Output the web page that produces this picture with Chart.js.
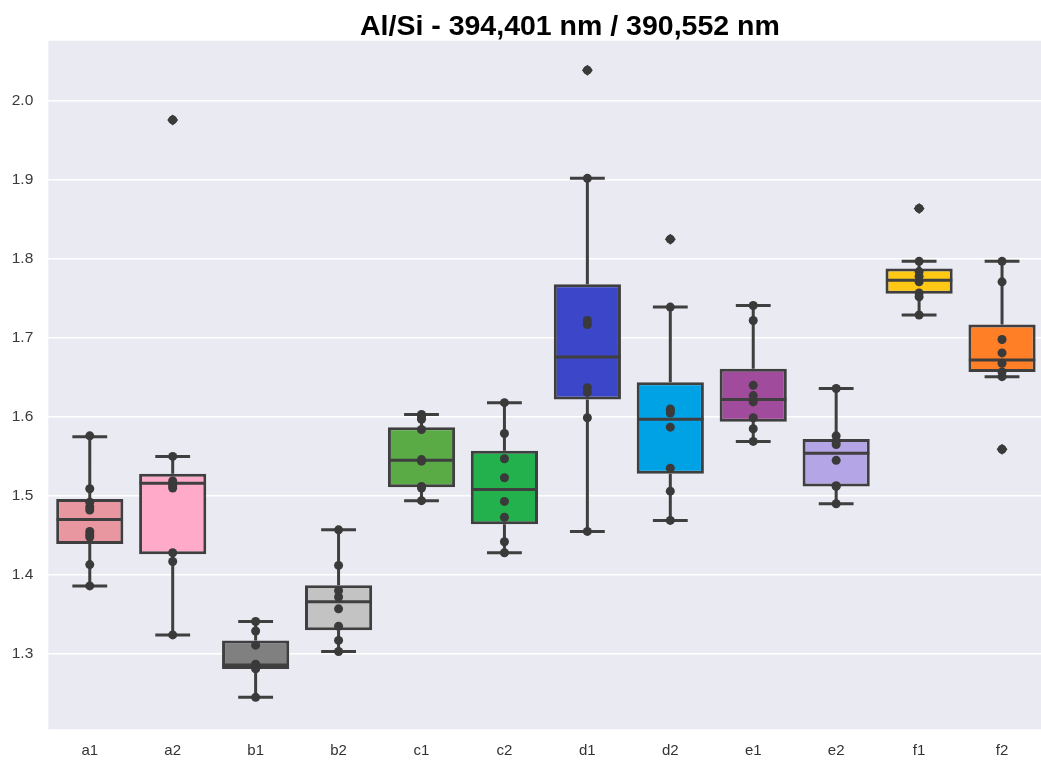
<!DOCTYPE html>
<html>
<head>
<meta charset="utf-8">
<script src="https://cdn.jsdelivr.net/npm/chart.js@4/dist/chart.umd.min.js"></script>
<style>
  html, body { margin: 0; padding: 0; background: #ffffff; overflow: hidden; }
  #wrap { width: 1049px; height: 760px; }
</style>
</head>
<body>
<div id="wrap"><canvas id="c" width="1049" height="760"></canvas></div>
<script>
// ---- data ----
const categories = ['a1','a2','b1','b2','c1','c2','d1','d2','e1','e2','f1','f2'];
const whiskerLow  = [1.386, 1.324, 1.245, 1.303, 1.494, 1.428, 1.455, 1.469, 1.569, 1.490, 1.729, 1.651];
const q1          = [1.439, 1.426, 1.281, 1.330, 1.511, 1.464, 1.622, 1.528, 1.594, 1.512, 1.756, 1.657];
const median      = [1.470, 1.516, 1.286, 1.366, 1.545, 1.508, 1.676, 1.597, 1.622, 1.554, 1.773, 1.672];
const q3          = [1.496, 1.528, 1.317, 1.387, 1.587, 1.557, 1.768, 1.644, 1.661, 1.572, 1.788, 1.717];
const whiskerHigh = [1.575, 1.550, 1.341, 1.457, 1.603, 1.618, 1.902, 1.739, 1.741, 1.636, 1.797, 1.797];

const flierCats   = ['a2','d1','d2','f1','f2'];
const flierValues = [1.976, 2.039, 1.825, 1.864, 1.559];

const samples = {
  a1: [1.576, 1.509, 1.492, 1.486, 1.482, 1.455, 1.451, 1.448, 1.413, 1.386],
  a2: [1.976, 1.550, 1.519, 1.516, 1.513, 1.510, 1.428, 1.417, 1.324],
  b1: [1.341, 1.329, 1.311, 1.287, 1.286, 1.285, 1.283, 1.281, 1.245],
  b2: [1.457, 1.412, 1.380, 1.372, 1.357, 1.335, 1.317, 1.303],
  c1: [1.603, 1.600, 1.597, 1.584, 1.546, 1.544, 1.512, 1.510, 1.494],
  c2: [1.618, 1.579, 1.547, 1.523, 1.493, 1.473, 1.442, 1.428],
  d1: [2.039, 1.902, 1.722, 1.717, 1.637, 1.631, 1.599, 1.455],
  d2: [1.825, 1.739, 1.610, 1.608, 1.605, 1.587, 1.535, 1.506, 1.469],
  e1: [1.741, 1.722, 1.640, 1.627, 1.619, 1.599, 1.585, 1.569],
  e2: [1.636, 1.576, 1.569, 1.565, 1.545, 1.513, 1.512, 1.490],
  f1: [1.864, 1.797, 1.784, 1.778, 1.771, 1.757, 1.752, 1.729],
  f2: [1.797, 1.771, 1.698, 1.681, 1.668, 1.657, 1.651, 1.559]
};

const boxColors = ['#e8969f','#ffaac8','#808080','#c3c3c3','#5aab46','#22b14c',
                   '#3c46c8','#00a2e6','#a04b9c','#b4a5e6','#ffc814','#ff7f27'];

const yTicks = [1.3, 1.4, 1.5, 1.6, 1.7, 1.8, 1.9, 2.0];
const titleText = 'Al/Si - 394,401 nm / 390,552 nm';

// ---- build datasets from the arrays ----
const CAP = 0.21, HALF = 0.4;
const segs = [];
const gap = (i) => segs.push({x: i, y: null});
categories.forEach((c, i) => {
  segs.push({x: i, y: whiskerLow[i]}, {x: i, y: q1[i]}); gap(i);
  segs.push({x: i, y: q3[i]}, {x: i, y: whiskerHigh[i]}); gap(i);
  segs.push({x: i - CAP, y: whiskerLow[i]}, {x: i + CAP, y: whiskerLow[i]}); gap(i);
  segs.push({x: i - CAP, y: whiskerHigh[i]}, {x: i + CAP, y: whiskerHigh[i]}); gap(i);
  segs.push({x: i - HALF, y: median[i]}, {x: i + HALF, y: median[i]}); gap(i);
});

const points = [];
categories.forEach((c, i) => samples[c].forEach(v => points.push({x: i, y: v})));
const fliers = flierCats.map((c, k) => ({x: categories.indexOf(c), y: flierValues[k]}));

const LINE = '#3f3f3f';

const plotBg = {
  id: 'plotBg',
  beforeDraw(chart) {
    const {ctx, chartArea: a} = chart;
    ctx.save();
    ctx.fillStyle = '#eaeaf2';
    ctx.fillRect(a.left, a.top, a.right - a.left, a.bottom - a.top);
    ctx.restore();
  },
  afterDraw(chart) {
    const {ctx, chartArea: a} = chart;
    ctx.save();
    ctx.font = 'bold 28.5px "Liberation Sans", Arial, sans-serif';
    ctx.fillStyle = '#000';
    ctx.textAlign = 'center';
    ctx.textBaseline = 'alphabetic';
    ctx.fillText(titleText, (a.left + a.right) / 2 + 24, 35);
    ctx.restore();
  }
};

new Chart(document.getElementById('c'), {
  type: 'bar',
  data: {
    labels: categories,
    datasets: [
      {
        type: 'bar',
        data: categories.map((c, i) => [q1[i], q3[i]]),
        backgroundColor: boxColors,
        borderColor: LINE,
        borderWidth: 3,
        borderSkipped: false,
        grouped: false,
        barPercentage: 0.81,
        categoryPercentage: 1.0,
        xAxisID: 'x',
        order: 3
      },
      {
        type: 'line',
        data: segs,
        xAxisID: 'x2',
        borderColor: LINE,
        borderWidth: 3,
        pointRadius: 0,
        spanGaps: false,
        tension: 0,
        borderCapStyle: 'butt',
        order: 2
      },
      {
        type: 'scatter',
        data: points,
        xAxisID: 'x2',
        pointRadius: 4.5,
        pointBackgroundColor: '#3a3a3a',
        pointBorderWidth: 0,
        order: 1
      },
      {
        type: 'scatter',
        data: fliers,
        xAxisID: 'x2',
        pointStyle: 'rectRot',
        pointRadius: 5.5,
        pointBackgroundColor: '#3a3a3a',
        pointBorderWidth: 0,
        order: 0
      }
    ]
  },
  options: {
    responsive: false,
    animation: false,
    devicePixelRatio: 1,
    layout: { padding: { top: 40.7, left: 0, right: 0, bottom: 0 } },
    plugins: { legend: { display: false }, tooltip: { enabled: false }, title: { display: false } },
    scales: {
      x: {
        type: 'category',
        offset: true,
        grid: { display: false, drawTicks: false },
        border: { display: false },
        ticks: { color: '#333', font: { family: '"Liberation Sans", Arial, sans-serif', size: 15 }, padding: 13 },
        afterFit(s) { s.height = 30.7; }
      },
      x2: {
        type: 'linear',
        display: false,
        offset: false,
        bounds: 'data',
        min: -0.5,
        max: 11.5,
        grid: { offset: false }
      },
      y: {
        type: 'linear',
        min: 1.2045,
        max: 2.0763,
        bounds: 'data',
        grid: { color: '#ffffff', lineWidth: 1.6, drawTicks: false },
        border: { display: false },
        afterBuildTicks(s) { s.ticks = yTicks.map(v => ({value: v})); },
        ticks: {
          color: '#3a3a3a',
          padding: 15,
          font: { family: '"Liberation Sans", Arial, sans-serif', size: 15.5 },
          callback: v => Number(v).toFixed(1)
        },
        afterFit(s) { s.width = 48.3; }
      }
    }
  },
  plugins: [plotBg]
});
</script>
</body>
</html>
